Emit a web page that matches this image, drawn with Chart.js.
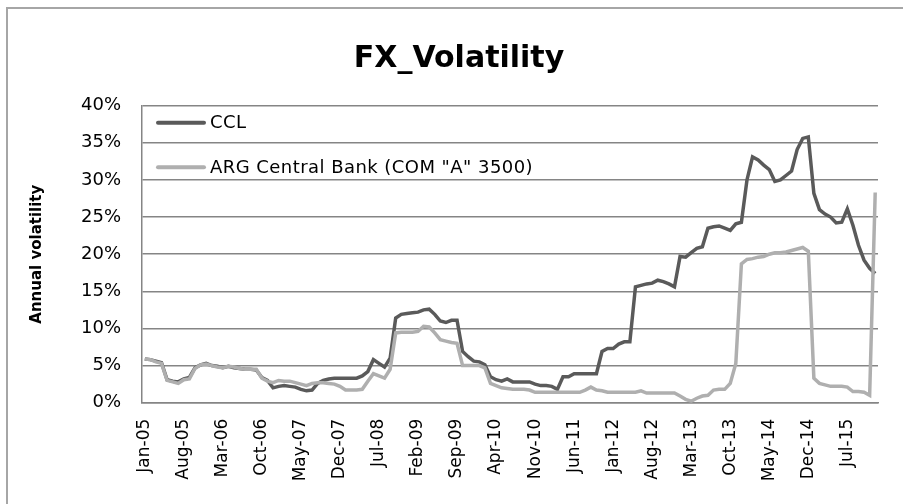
<!DOCTYPE html>
<html>
<head>
<meta charset="utf-8">
<script src="https://cdn.jsdelivr.net/npm/chart.js@4.4.1/dist/chart.umd.min.js"></script>
<style>
    html, body { margin: 0; padding: 0; background: #fff; }
    #wrap { position: relative; width: 903px; height: 504px; overflow: hidden; }
    #frame { position: absolute; left: 6px; top: 7px; width: 1000px; height: 1000px; border: 2px solid #a6a6a6; pointer-events: none; }
</style>
</head>
<body>
<div id="wrap">
    <canvas id="fx-chart" width="903" height="504"></canvas>
    <div id="frame"></div>
</div>
<script>
    // Monthly categories Jan-05 .. Dec-15
    const monthNames = ['Jan', 'Feb', 'Mar', 'Apr', 'May', 'Jun', 'Jul', 'Aug', 'Sep', 'Oct', 'Nov', 'Dec'];
    const years = ['05', '06', '07', '08', '09', '10', '11', '12', '13', '14', '15'];
    const labelEvery = 7;

    // Annual volatility, in %
    const cclValues = [
        5.9, 5.8, 5.6, 5.4, 3.1, 2.9, 2.8, 3.2, 3.4, 4.7, 5.1, 5.3,
        5.0, 4.9, 4.7, 4.9, 4.7, 4.6, 4.5, 4.5, 4.4, 3.4, 3.0, 2.0,
        2.2, 2.3, 2.2, 2.1, 1.8, 1.6, 1.7, 2.6, 3.0, 3.2, 3.3, 3.3,
        3.3, 3.3, 3.3, 3.6, 4.2, 5.8, 5.3, 4.8, 6.0, 11.4, 11.9, 12.0,
        12.1, 12.2, 12.5, 12.6, 11.9, 11.0, 10.8, 11.1, 11.1, 6.9, 6.2, 5.6,
        5.5, 5.1, 3.5, 3.1, 2.9, 3.2, 2.8, 2.8, 2.8, 2.8, 2.5, 2.3,
        2.3, 2.2, 1.8, 3.5, 3.5, 3.9, 3.9, 3.9, 3.9, 3.9, 6.9, 7.3,
        7.3, 7.9, 8.2, 8.2, 15.6, 15.8, 16.0, 16.1, 16.5, 16.3, 16.0, 15.6,
        19.7, 19.6, 20.2, 20.8, 21.0, 23.5, 23.7, 23.8, 23.5, 23.2, 24.1, 24.3,
        30.0, 33.1, 32.7, 32.0, 31.4, 29.8, 30.0, 30.6, 31.2, 34.1, 35.6, 35.8,
        28.2, 26.0, 25.4, 25.0, 24.2, 24.3, 26.1, 23.9, 21.2, 19.2, 18.1, 17.4
    ];
    const argValues = [
        5.9, 5.8, 5.5, 5.3, 3.0, 2.8, 2.6, 3.1, 3.2, 4.6, 5.1, 5.2,
        5.0, 4.8, 4.7, 4.9, 4.8, 4.6, 4.5, 4.5, 4.5, 3.3, 2.9, 2.7,
        3.0, 2.9, 2.9, 2.7, 2.5, 2.3, 2.6, 2.7, 2.7, 2.6, 2.5, 2.2,
        1.7, 1.7, 1.7, 1.8, 2.9, 3.9, 3.6, 3.3, 4.5, 9.4, 9.5, 9.5,
        9.5, 9.6, 10.3, 10.2, 9.4, 8.5, 8.3, 8.1, 8.0, 5.0, 5.0, 5.0,
        5.0, 4.7, 2.6, 2.3, 2.0, 1.9, 1.8, 1.8, 1.8, 1.7, 1.4, 1.4,
        1.4, 1.4, 1.4, 1.4, 1.4, 1.4, 1.4, 1.7, 2.1, 1.7, 1.6, 1.4,
        1.4, 1.4, 1.4, 1.4, 1.4, 1.6, 1.3, 1.3, 1.3, 1.3, 1.3, 1.3,
        0.9, 0.45, 0.2, 0.6, 0.9, 1.0, 1.7, 1.8, 1.8, 2.6, 5.3, 18.7,
        19.3, 19.4, 19.6, 19.7, 20.0, 20.2, 20.2, 20.3, 20.5, 20.7, 20.9, 20.4,
        3.3, 2.6, 2.4, 2.2, 2.2, 2.2, 2.1, 1.5, 1.5, 1.4, 1.0, 28.3
    ];
    const yTicks = [0, 5, 10, 15, 20, 25, 30, 35, 40];

    const labels = [];
    years.forEach(function(yy) {
        monthNames.forEach(function(m) {
            labels.push(m + '-' + yy);
        });
    });

    const axisGray = '#858585';

    // Legend drawn inside the plot area, stacked
    const insideLegend = {
        id: 'insideLegend',
        afterDatasetsDraw: function(chart) {
            const ctx = chart.ctx;
            const area = chart.chartArea;
            ctx.save();
            ctx.font = '18px "DejaVu Sans"';
            ctx.letterSpacing = '0.45px';
            ctx.textBaseline = 'middle';
            ctx.fillStyle = '#000';
            chart.data.datasets.forEach(function(ds, k) {
                const y = area.top + 17 + k * 44.5;
                ctx.strokeStyle = ds.borderColor;
                ctx.lineWidth = 4;
                ctx.lineCap = 'round';
                ctx.beginPath();
                ctx.moveTo(area.left + 16, y);
                ctx.lineTo(area.left + 62, y);
                ctx.stroke();
                ctx.fillText(ds.label, area.left + 68, y + 1);
            });
            ctx.restore();
        }
    };

    new Chart(document.getElementById('fx-chart'), {
        type: 'line',
        data: {
            labels: labels,
            datasets: [
                {
                    label: 'CCL',
                    data: cclValues,
                    borderColor: '#5a5a5a',
                    borderWidth: 3.5,
                    pointRadius: 0,
                    tension: 0,
                    order: 1
                },
                {
                    label: 'ARG Central Bank (COM "A" 3500)',
                    data: argValues,
                    borderColor: '#afafaf',
                    borderWidth: 3.5,
                    pointRadius: 0,
                    tension: 0,
                    order: 0
                }
            ]
        },
        options: {
            responsive: false,
            animation: false,
            layout: {
                padding: { left: 40, right: 25, top: 0, bottom: 0 }
            },
            plugins: {
                legend: { display: false },
                tooltip: { enabled: false },
                title: {
                    display: true,
                    text: 'FX_Volatility',
                    color: '#000',
                    font: { family: '"DejaVu Sans"', size: 30, weight: 'bold' },
                    padding: { top: 41, bottom: 28.7 }
                }
            },
            scales: {
                x: {
                    offset: true,
                    grid: { display: false, drawTicks: false },
                    border: { display: true, color: axisGray, width: 1.5 },
                    afterFit: function(scale) { scale.height = 101.3; },
                    ticks: {
                        autoSkip: false,
                        minRotation: 90,
                        maxRotation: 90,
                        padding: 16,
                        color: '#000',
                        font: { family: '"DejaVu Sans"', size: 17 },
                        callback: function(val, index) {
                            return index % labelEvery === 0 ? labels[index] : null;
                        }
                    }
                },
                y: {
                    min: 0,
                    max: 40,
                    afterFit: function(scale) { scale.width = 102; },
                    afterBuildTicks: function(scale) {
                        scale.ticks = yTicks.map(function(v) { return { value: v }; });
                    },
                    grid: { color: axisGray, lineWidth: 1.5, drawTicks: false },
                    border: { display: true, color: axisGray, width: 1.5 },
                    ticks: {
                        padding: 21,
                        color: '#000',
                        font: { family: '"DejaVu Sans"', size: 18 },
                        callback: function(v) { return v + '%'; }
                    },
                    title: {
                        display: true,
                        text: 'Annual volatility',
                        color: '#000',
                        font: { family: '"DejaVu Sans"', size: 15, weight: 'bold' },
                        padding: { top: -12, bottom: 0 }
                    }
                }
            }
        },
        plugins: [insideLegend]
    });
</script>
</body>
</html>
